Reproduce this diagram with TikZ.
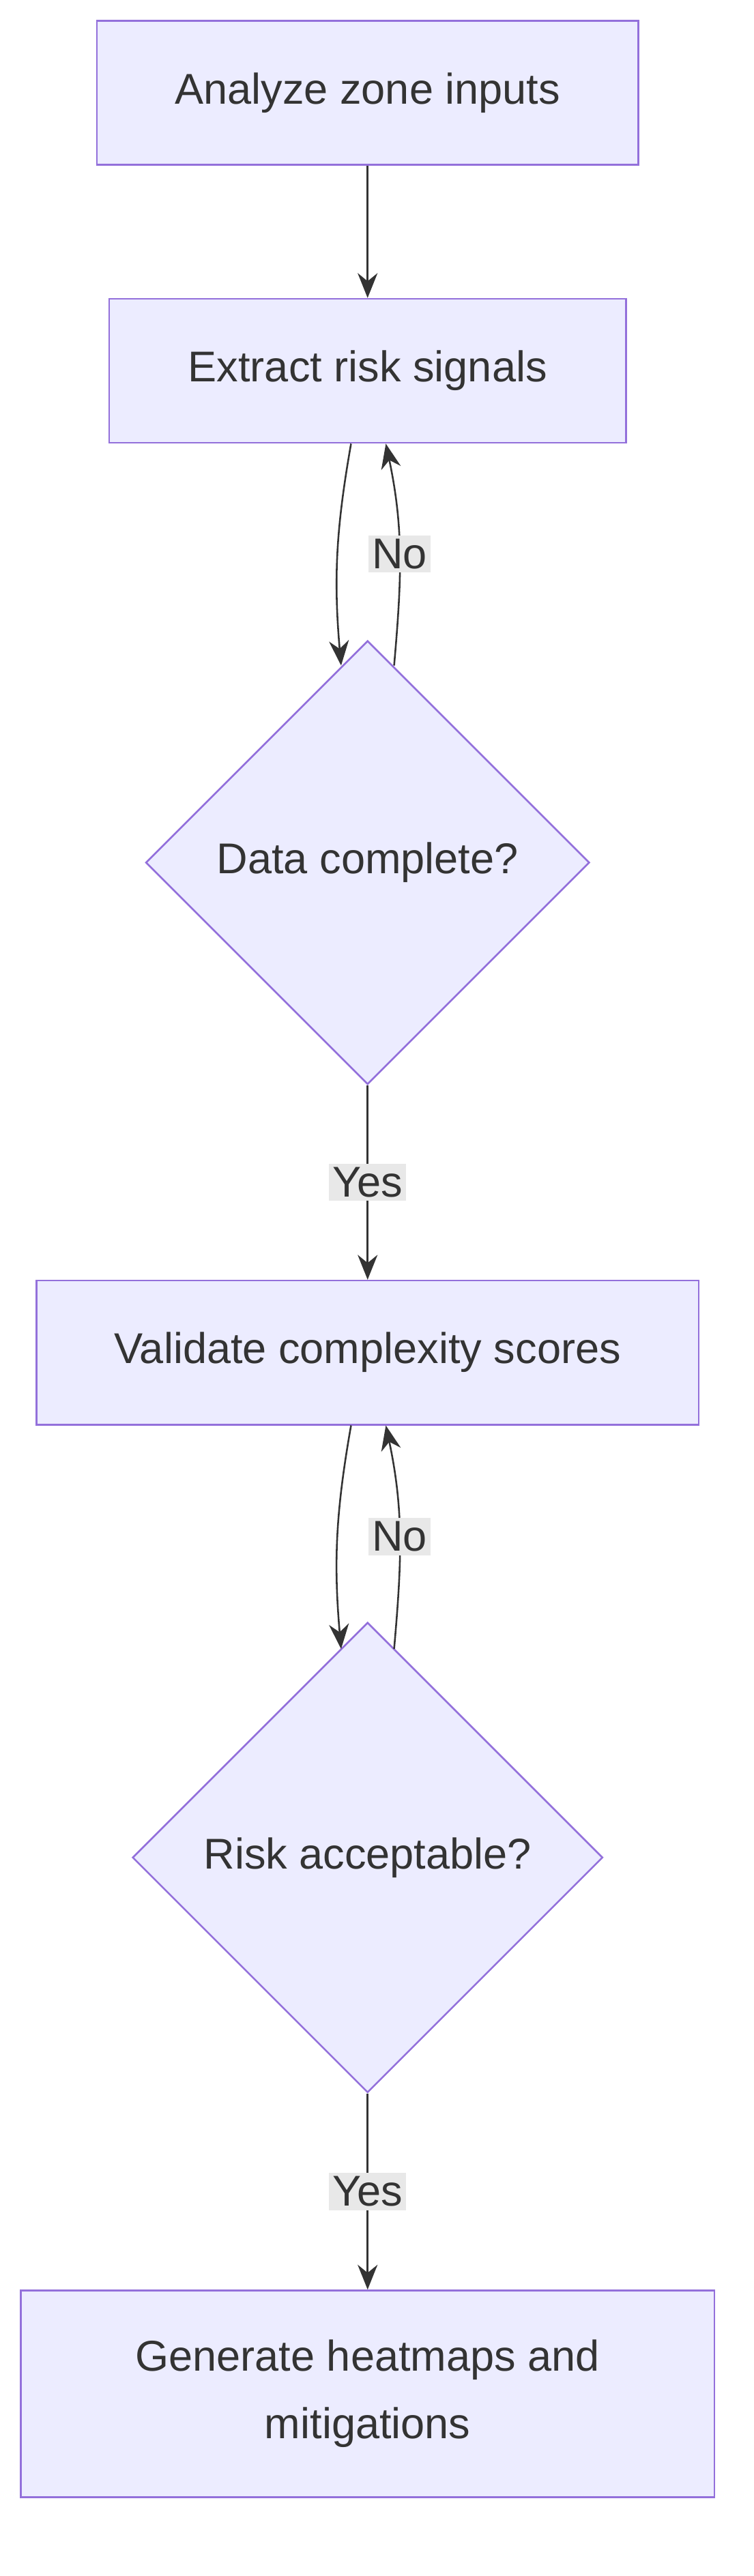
\documentclass[tikz,border=0pt]{standalone}
\usepackage{fontspec}
\setmainfont{Liberation Sans}
\usetikzlibrary{shapes.geometric,positioning,arrows.meta}
\definecolor{boxFill}{HTML}{ECECFF}
\definecolor{boxLine}{HTML}{9370DB}
\definecolor{edgeColor}{HTML}{333333}
\definecolor{labelFill}{HTML}{E8E8E8}
\tikzset{>={Stealth[length=0.75cm,width=0.6cm]}}
\tikzset{
  process/.style={draw=boxLine,fill=boxFill,line width=1.5pt,text=edgeColor,
    minimum height=4.35cm,align=center,font=\fontsize{37}{58}\selectfont},
  check/.style={diamond,aspect=1,draw=boxLine,fill=boxFill,line width=1.5pt,
    text=edgeColor,inner sep=0pt,font=\fontsize{37}{46}\selectfont},
  flow/.style={->,draw=edgeColor,line width=1.5pt},
  tag/.style={fill=labelFill,text=edgeColor,inner sep=3pt,font=\fontsize{37}{46}\selectfont}
}
\begin{document}
\begin{tikzpicture}[x=0.05cm,y=-0.05cm]
  \useasboundingbox (0,0) rectangle (455,1556);

  \node[process,minimum width=16.35cm] (zone) at (222,56) {Analyze zone inputs};
  \node[process,minimum width=15.6cm] (signals) at (222,224) {Extract risk signals};
  \node[check,minimum width=13.4cm,minimum height=13.4cm] (complete) at (222,521) {Data complete?};
  \node[process,minimum width=20cm] (validate) at (222,817) {Validate complexity scores};
  \node[check,minimum width=14.2cm,minimum height=14.2cm] (accept) at (222,1122) {Risk acceptable?};
  \node[process,minimum width=20.95cm,minimum height=6.25cm] (heat) at (222,1446) {Generate heatmaps and\\mitigations};

  \draw[flow] (zone) -- (signals);

  \coordinate (s1) at (212,268);
  \coordinate (s2) at (233,268);
  \coordinate (c1) at (206,402);
  \coordinate (c2) at (238,402);
  \draw[flow] (s1) to[out=-100,in=95] (c1);
  \draw[flow] (c2) to[out=85,in=-78] node[tag,pos=0.5] {No} (s2);

  \draw[flow] (complete) -- node[tag] {Yes} (validate);

  \coordinate (v1) at (212,861);
  \coordinate (v2) at (233,861);
  \coordinate (a1) at (206,996);
  \coordinate (a2) at (238,996);
  \draw[flow] (v1) to[out=-100,in=95] (a1);
  \draw[flow] (a2) to[out=85,in=-78] node[tag,pos=0.5] {No} (v2);

  \draw[flow] (accept) -- node[tag] {Yes} (heat);
\end{tikzpicture}
\end{document}
